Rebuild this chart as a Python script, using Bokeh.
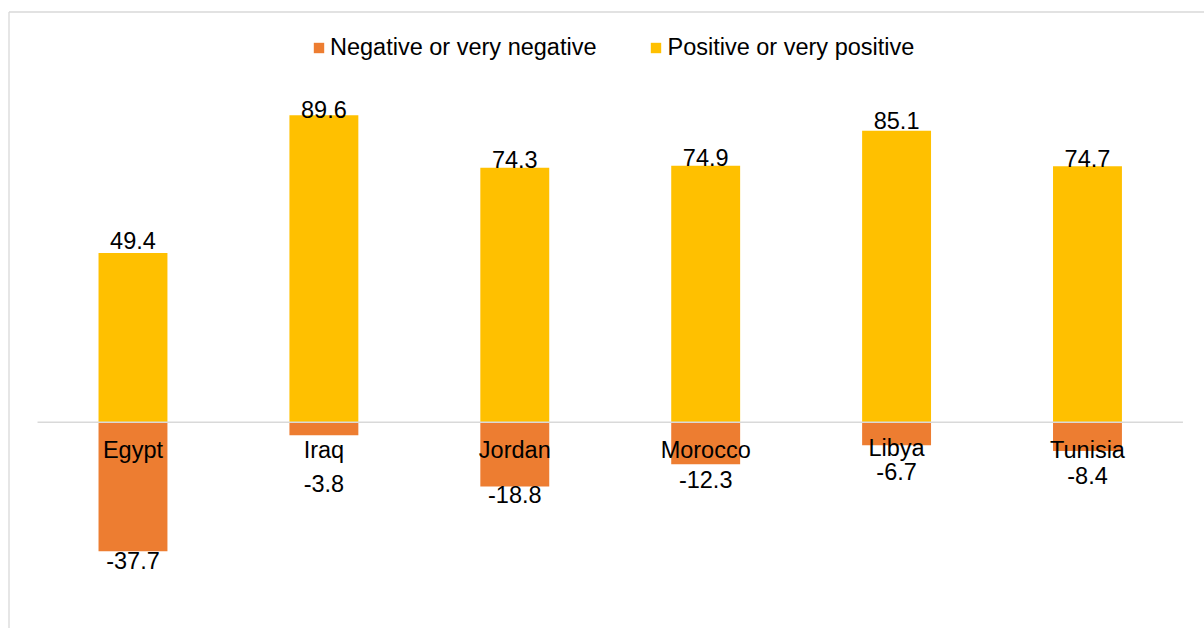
from bokeh.plotting import figure
from bokeh.models import ColumnDataSource, Range1d, Legend, LegendItem
from bokeh.core.properties import value
from bokeh.embed import file_html
from bokeh.resources import INLINE

countries = ["Egypt", "Iraq", "Jordan", "Morocco", "Libya", "Tunisia"]
negative = [-37.7, -3.8, -18.8, -12.3, -6.7, -8.4]
positive = [49.4, 89.6, 74.3, 74.9, 85.1, 74.7]
series_names = ["Negative or very negative", "Positive or very positive"]

# label placement styles (screen px offsets of label centres from bar ends)
pos_label_dy = [-13, -5.5, -8, -8, -10.5, -7.5]
neg_label_dy = [9, 48, 8, 15, 26, 25]
cat_label_dy = [27.5, 27.5, 27.5, 28, 25.5, 27.5]

FONT = "Liberation Sans"
FS = "23.5px"
YELLOW = "#FFC000"
ORANGE = "#ED7D31"
GRAY = "#D9D9D9"

xs = [i + 0.5 for i in range(len(countries))]
src = ColumnDataSource(dict(
    x=xs, country=countries, neg=negative, pos=positive,
    pos_txt=[f"{v:.1f}" for v in positive],
    neg_txt=[f"{v:.1f}" for v in negative],
    pos_dy=pos_label_dy, neg_dy=neg_label_dy, cat_dy=cat_label_dy,
    zero=[0] * len(countries),
))

W, H = 1204, 628
x0, x1 = -0.194, 6.113
y0, y1 = -60.23, 123.12

p = figure(width=W, height=H, output_backend="svg", toolbar_location=None,
           x_range=Range1d(x0, x1), y_range=Range1d(y0, y1),
           x_axis_location=None, y_axis_location=None,
           min_border=0, min_border_left=0, min_border_right=0,
           min_border_top=0, min_border_bottom=0)
p.grid.visible = False
p.outline_line_color = None
p.background_fill_color = "white"
p.border_fill_color = "white"

# chart border (left and top edges visible)
px_x = (x1 - x0) / W
px_y = (y1 - y0) / H
bx = x0 + 8.5 * px_x
by = y1 - 11.5 * px_y
p.segment(x0=[bx], y0=[y0], x1=[bx], y1=[by], line_color=GRAY, line_width=1.3)
p.segment(x0=[bx], y0=[by], x1=[x1], y1=[by], line_color=GRAY, line_width=1.3)

r_neg = p.vbar(x="x", width=0.361, bottom=0, top="neg", source=src,
               fill_color=ORANGE, line_color=None)
r_pos = p.vbar(x="x", width=0.361, bottom=0, top="pos", source=src,
               fill_color=YELLOW, line_color=None)

# zero line
p.segment(x0=[0], y0=[0], x1=[len(countries)], y1=[0], line_color=GRAY, line_width=1.5)

common = dict(text_font=value(FONT), text_font_size=FS, text_color="#000000",
              text_align="center", text_baseline="middle", source=src)
p.text(x="x", y="pos", text="pos_txt", y_offset="pos_dy", **common)
p.text(x="x", y="neg", text="neg_txt", y_offset="neg_dy", **common)
p.text(x="x", y="zero", text="country", y_offset="cat_dy", **common)

legend = Legend(items=[LegendItem(label=series_names[0], renderers=[r_neg]),
                       LegendItem(label=series_names[1], renderers=[r_pos])],
                orientation="horizontal", location=(312, 567.5),
                label_text_font=FONT, label_text_font_size=FS, label_text_color="#000000",
                glyph_width=13, glyph_height=13, label_standoff=5, spacing=53,
                padding=0, margin=0, border_line_color=None,
                background_fill_alpha=0, label_height=24)
p.add_layout(legend)

open("out.html", "w").write(file_html(p, INLINE))
